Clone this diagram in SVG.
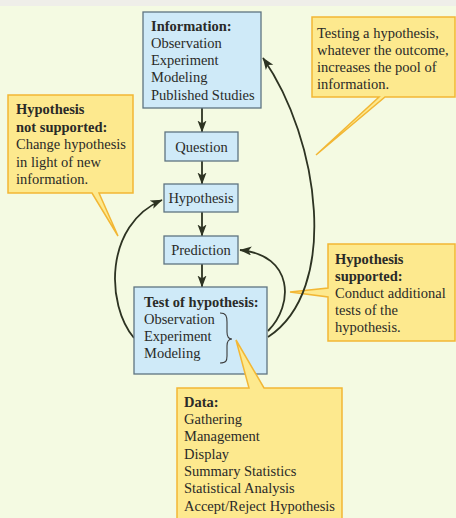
<svg xmlns="http://www.w3.org/2000/svg" width="456" height="518" viewBox="0 0 456 518">
<defs>
<style>
.bg{fill:#f4fae2}
.box{fill:#cfeaf8;stroke:#5f7480;stroke-width:1.3}
.call{fill:#fde98e;stroke:#f2b735;stroke-width:1.5;stroke-linejoin:miter}
text{font-family:"Liberation Serif","Times New Roman",serif;font-size:14.5px;fill:#2a2a28}
.b{font-weight:bold}
.c{text-anchor:middle}
.arr{fill:none;stroke:#2d3322;stroke-width:1.8;marker-end:url(#ah)}
.brace{fill:none;stroke:#3a3a3a;stroke-width:1.1}
</style>
<marker id="ah" markerUnits="userSpaceOnUse" markerWidth="14" markerHeight="10" refX="11.5" refY="4.5" orient="auto">
<path d="M0,0 L12,4.5 L0,9 L3,4.5 Z" fill="#2d3322"/>
</marker>
</defs>
<rect class="bg" x="0" y="0" width="456" height="518"/>
<rect x="0" y="0" width="456" height="6" fill="#efeee9"/>

<g id="callout-not-supported">
<path class="call" d="M8,95 H133 V193 H99 L118,236 L92,193 H8 Z"/>
<text x="16" y="114" class="b">Hypothesis</text>
<text x="16" y="131.5" class="b">not supported:</text>
<text x="16" y="149">Change hypothesis</text>
<text x="16" y="166.5">in light of new</text>
<text x="16" y="184">information.</text>
</g>

<g id="callout-pool">
<path class="call" d="M312,17 H455 V97 H385 L316,155 L379,97 H312 Z"/>
<text x="317" y="37.5">Testing a hypothesis,</text>
<text x="317" y="54.5">whatever the outcome,</text>
<text x="317" y="71.5">increases the pool of</text>
<text x="317" y="88.5">information.</text>
</g>

<g id="callout-supported">
<path class="call" d="M328,244 H455 V341 H328 V297 L290,292 L328,288 Z"/>
<text x="335" y="264" class="b">Hypothesis</text>
<text x="335" y="281" class="b">supported:</text>
<text x="335" y="298">Conduct additional</text>
<text x="335" y="315">tests of the</text>
<text x="335" y="332">hypothesis.</text>
</g>

<g id="connectors">
<line class="arr" x1="202" y1="108" x2="202" y2="132"/>
<line class="arr" x1="202" y1="161" x2="202" y2="184"/>
<line class="arr" x1="202" y1="212" x2="202" y2="236"/>
<line class="arr" x1="202" y1="264" x2="202" y2="287"/>
<path class="arr" d="M134,338 C106,305 104,225 162,200"/>
<path class="arr" d="M268,331 C294,305 294,255 240,250"/>
<path class="arr" d="M268,337 C340,290 320,140 263,58"/>
</g>

<g id="information">
<rect class="box" x="143" y="12" width="118" height="96"/>
<text x="151" y="31" class="b">Information:</text>
<text x="151" y="48">Observation</text>
<text x="151" y="65">Experiment</text>
<text x="151" y="82">Modeling</text>
<text x="151" y="99.5">Published Studies</text>
</g>

<g id="question">
<rect class="box" x="165" y="132" width="73" height="29"/>
<text x="201.5" y="152" class="c">Question</text>
</g>

<g id="hypothesis">
<rect class="box" x="164" y="184" width="74" height="28"/>
<text x="201" y="203" class="c">Hypothesis</text>
</g>

<g id="prediction">
<rect class="box" x="164" y="236" width="74" height="28"/>
<text x="201" y="254.5" class="c">Prediction</text>
</g>

<g id="test">
<rect class="box" x="134" y="287" width="133" height="87"/>
<text x="144" y="307" class="b">Test of hypothesis:</text>
<text x="144" y="324">Observation</text>
<text x="144" y="341">Experiment</text>
<text x="144" y="358">Modeling</text>
<path class="brace" d="M220,313 C226,313 227,316 227,322 L227,332 C227,337 229,339 232,339 C229,339 227,341 227,346 L227,356 C227,361 226,363 220,363"/>
</g>

<g id="callout-data">
<path class="call" d="M177,388 H249 L236,340 L264,388 H342 V520 H177 Z"/>
<text x="184" y="406.5" class="b">Data:</text>
<text x="184" y="424">Gathering</text>
<text x="184" y="441">Management</text>
<text x="184" y="458.5">Display</text>
<text x="184" y="476">Summary Statistics</text>
<text x="184" y="493">Statistical Analysis</text>
<text x="184" y="510.5">Accept/Reject Hypothesis</text>
</g>
</svg>
